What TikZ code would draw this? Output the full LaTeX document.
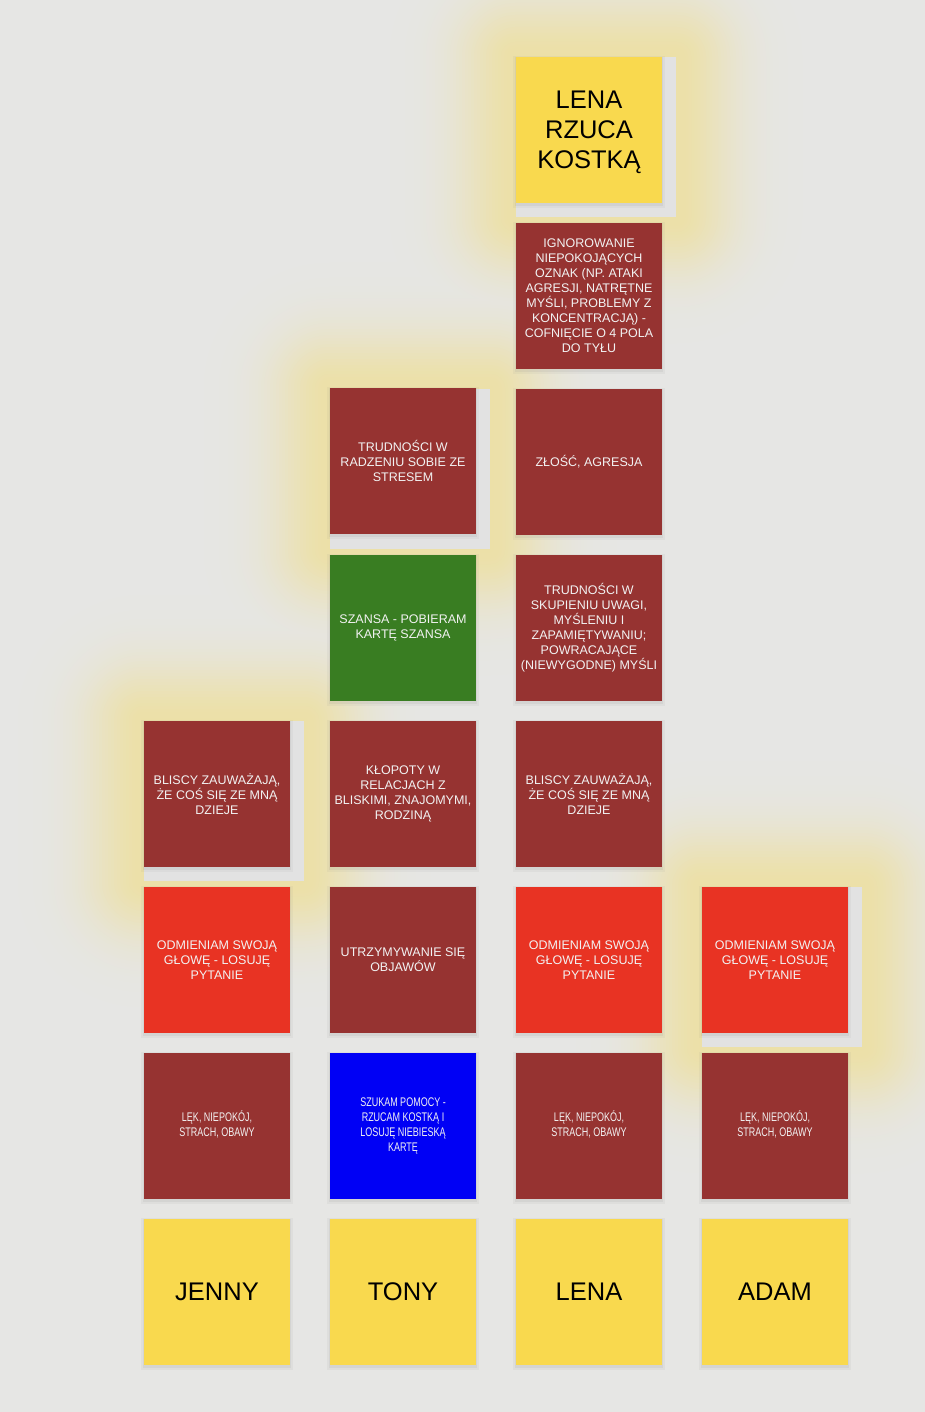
\documentclass[tikz,border=0pt]{standalone}
\usepackage{fontspec}
\setmainfont{Liberation Sans}
\usepackage{graphicx}
\usetikzlibrary{shadows}
\definecolor{bg}{HTML}{E6E6E4}
\definecolor{dred}{HTML}{963331}
\definecolor{bred}{HTML}{E83323}
\definecolor{cgreen}{HTML}{397D22}
\definecolor{cblue}{HTML}{0000F5}
\definecolor{cyellow}{HTML}{F9D94E}
\definecolor{cardtxt}{HTML}{F2F2F2}
\definecolor{glowpk}{HTML}{ECE0A8}
\definecolor{backcard}{HTML}{E2E2E2}
\tikzset{
  card/.style={minimum width=146pt, minimum height=146pt, inner sep=0pt,
    align=center, text=cardtxt, font=\fontsize{12.5}{15}\selectfont,
    drop shadow={shadow xshift=0pt, shadow yshift=-1.5pt, opacity=0.10, shadow scale=1.02},
    drop shadow={shadow xshift=0pt, shadow yshift=-2pt, opacity=0.07, shadow scale=1.045}},
  darkcard/.style={card, fill=dred},
  redcard/.style={card, fill=bred},
  greencard/.style={card, fill=cgreen},
  bluecard/.style={card, fill=cblue},
  yellowcard/.style={card, fill=cyellow, text=black, font=\fontsize{25.5}{30}\selectfont},
  backrect/.style={fill=backcard}
}
% glow layers of all highlighted cards interleaved, outer to inner
\newcommand\glowlayer[4]{%
  \fill[fill=glowpk!#4!bg, rounded corners=#3 pt]
    (#1-#3, #2-#3) rectangle (#1+160+#3, #2+160+#3);}
\newcommand\narrow[1]{\scalebox{0.72}[1]{\begin{tabular}{@{}c@{}}#1\end{tabular}}}
\begin{document}
\begin{tikzpicture}[x=1pt, y=-1pt]
\useasboundingbox (0,0) rectangle (924,1412);
\fill[bg] (-5,-5) rectangle (930,1418);
% glows
\foreach \i [evaluate=\i as \r using 126-3*\i,
             evaluate=\i as \p using 100*exp(-((126-3*\i)/58)^2)] in {0,...,41}{
  \glowlayer{516}{57}{\r}{\p}
  \glowlayer{330}{389}{\r}{\p}
  \glowlayer{144}{721}{\r}{\p}
  \glowlayer{702}{887}{\r}{\p}
}
% back rectangles of the highlighted cards
\fill[backrect] (516,57) rectangle (676,217);
\fill[backrect] (330,389) rectangle (490,549);
\fill[backrect] (144,721) rectangle (304,881);
\fill[backrect] (702,887) rectangle (862,1047);
% row 1
\node[yellowcard] (lenarzuca) at (589,130) {\raisebox{-3pt}[\height][\depth]{\begin{tabular}{@{}c@{}}LENA\\RZUCA\\KOSTKĄ\end{tabular}}};
% row 2
\node[darkcard] (ignor) at (589,296) {IGNOROWANIE\\NIEPOKOJĄCYCH\\OZNAK (NP. ATAKI\\AGRESJI, NATRĘTNE\\MYŚLI, PROBLEMY Z\\KONCENTRACJĄ) -\\COFNIĘCIE O 4 POLA\\DO TYŁU};
% row 3
\node[darkcard] (stres) at (403,461) {TRUDNOŚCI W\\RADZENIU SOBIE ZE\\STRESEM};
\node[darkcard] (zlosc) at (589,462) {ZŁOŚĆ, AGRESJA};
% row 4
\node[greencard] (szansa) at (403,628) {SZANSA - POBIERAM\\KARTĘ SZANSA};
\node[darkcard] (skupienie) at (589,628) {TRUDNOŚCI W\\SKUPIENIU UWAGI,\\MYŚLENIU I\\ZAPAMIĘTYWANIU;\\POWRACAJĄCE\\(NIEWYGODNE) MYŚLI};
% row 5
\node[darkcard] (blisciA) at (217,794) {BLISCY ZAUWAŻAJĄ,\\ŻE COŚ SIĘ ZE MNĄ\\DZIEJE};
\node[darkcard] (klopoty) at (403,794) {KŁOPOTY W\\RELACJACH Z\\BLISKIMI, ZNAJOMYMI,\\RODZINĄ};
\node[darkcard] (blisciB) at (589,794) {BLISCY ZAUWAŻAJĄ,\\ŻE COŚ SIĘ ZE MNĄ\\DZIEJE};
% row 6
\node[redcard] (odmA) at (217,960) {ODMIENIAM SWOJĄ\\GŁOWĘ - LOSUJĘ\\PYTANIE};
\node[darkcard] (utrzym) at (403,960) {UTRZYMYWANIE SIĘ\\OBJAWÓW};
\node[redcard] (odmB) at (589,960) {ODMIENIAM SWOJĄ\\GŁOWĘ - LOSUJĘ\\PYTANIE};
\node[redcard] (odmC) at (775,960) {ODMIENIAM SWOJĄ\\GŁOWĘ - LOSUJĘ\\PYTANIE};
% row 7
\node[darkcard] (lekA) at (217,1126) {\narrow{LĘK, NIEPOKÓJ,\\STRACH, OBAWY}};
\node[bluecard] (pomoc) at (403,1126) {\narrow{SZUKAM POMOCY -\\RZUCAM KOSTKĄ I\\LOSUJĘ NIEBIESKĄ\\KARTĘ}};
\node[darkcard] (lekB) at (589,1126) {\narrow{LĘK, NIEPOKÓJ,\\STRACH, OBAWY}};
\node[darkcard] (lekC) at (775,1126) {\narrow{LĘK, NIEPOKÓJ,\\STRACH, OBAWY}};
% row 8
\node[yellowcard] (jenny) at (217,1292) {JENNY};
\node[yellowcard] (tony) at (403,1292) {TONY};
\node[yellowcard] (lena) at (589,1292) {LENA};
\node[yellowcard] (adam) at (775,1292) {ADAM};
\end{tikzpicture}
\end{document}
